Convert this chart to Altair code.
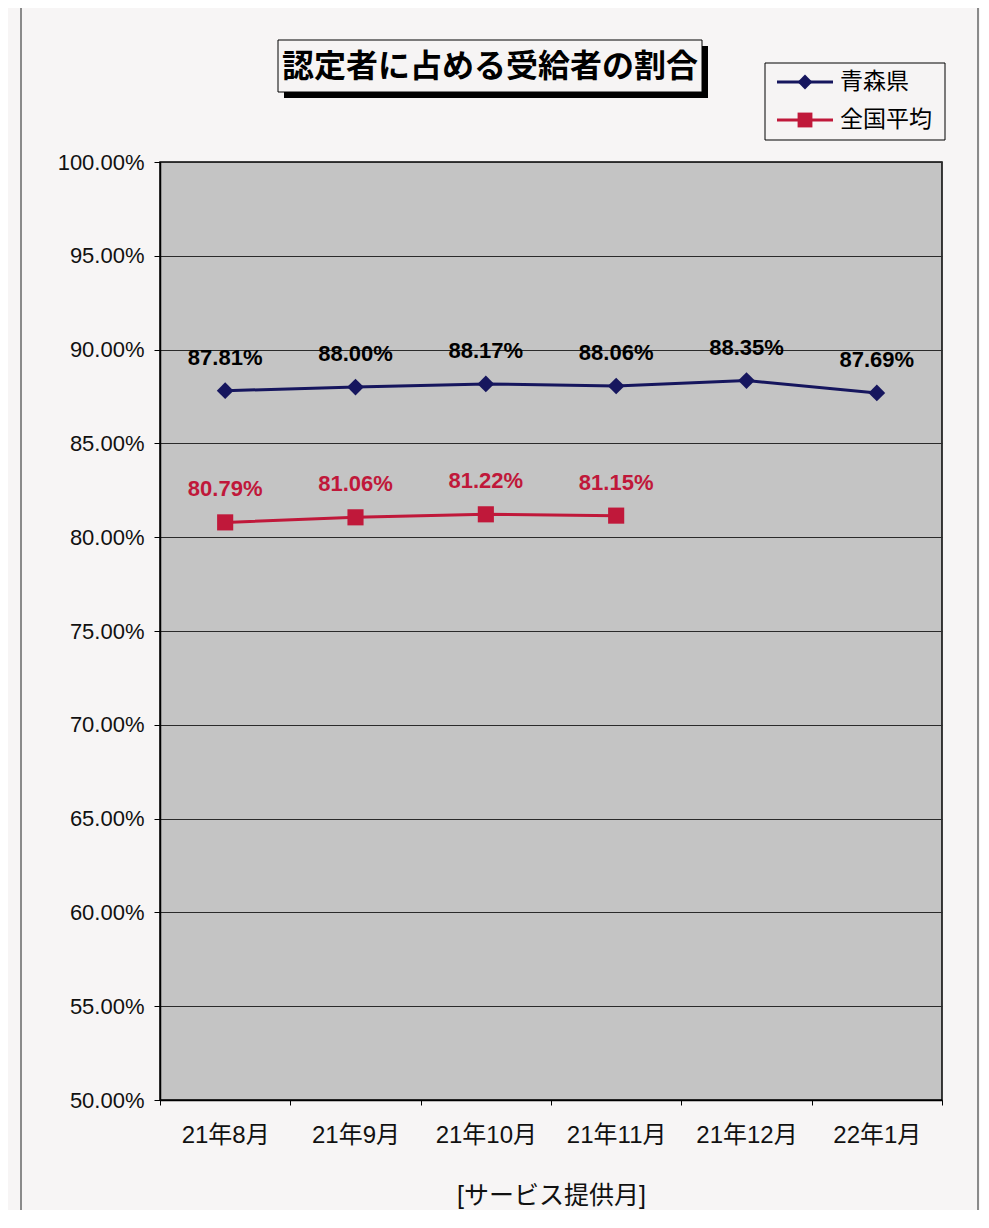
import altair as alt
import pandas as pd

months = ["21年8月", "21年9月", "21年10月", "21年11月", "21年12月", "22年1月"]
series_names = ["青森県", "全国平均"]
aomori = [87.81, 88.00, 88.17, 88.06, 88.35, 87.69]
national = [80.79, 81.06, 81.22, 81.15, None, None]
y_ticks = [0.50, 0.55, 0.60, 0.65, 0.70, 0.75, 0.80, 0.85, 0.90, 0.95, 1.00]

line_colors = ["#16165e", "#c0183a"]
label_colors = ["#000000", "#c0183a"]
FONT = "Liberation Sans, Noto Sans CJK JP, sans-serif"

rows = []
for m, a, n in zip(months, aomori, national):
    rows.append({"month": m, "series": series_names[0], "value": a / 100})
    if n is not None:
        rows.append({"month": m, "series": series_names[1], "value": n / 100})
df = pd.DataFrame(rows)

x_enc = alt.X("month:N", sort=months,
              scale=alt.Scale(domain=months, paddingInner=0, paddingOuter=0),
              axis=alt.Axis(title="[サービス提供月]", labelAngle=0, labelFontSize=24,
                            labelFont=FONT, labelColor="#111", labelPadding=18,
                            titleFont=FONT, titleFontSize=25, titleFontWeight="normal",
                            titleColor="#111", titlePadding=36, tickBand="extent",
                            tickSize=5, tickColor="#000", domainColor="#000",
                            domainWidth=1.5, grid=False))
y_enc = alt.Y("value:Q",
              scale=alt.Scale(domain=[0.5, 1.0], nice=False, zero=False),
              axis=alt.Axis(title=None, format=".2%", values=y_ticks, labelFontSize=22,
                            labelFont=FONT, labelColor="#111", labelPadding=10,
                            tickSize=6, tickColor="#000", domainColor="#000",
                            domainWidth=1.5, grid=True, gridColor="#2a2a2a",
                            gridWidth=1))
color_scale = alt.Scale(domain=series_names, range=line_colors)

base = alt.Chart(df)
lines = base.mark_line(strokeWidth=3).encode(
    x=x_enc, y=y_enc,
    color=alt.Color("series:N", scale=color_scale, legend=None),
    detail="series:N")
points = base.mark_point(filled=True, opacity=1).encode(
    x=x_enc, y=y_enc,
    color=alt.Color("series:N", scale=color_scale, legend=None),
    shape=alt.Shape("series:N", scale=alt.Scale(domain=series_names, range=["diamond", "square"]),
                    legend=None),
    size=alt.Size("series:N", scale=alt.Scale(domain=series_names, range=[280, 260]),
                  legend=None))

labels = []
for name, col in zip(series_names, label_colors):
    labels.append(
        base.transform_filter(alt.datum.series == name)
        .mark_text(dy=-33, fontSize=22, fontWeight="bold", font=FONT, color=col)
        .encode(x=x_enc, y=y_enc, text=alt.Text("value:Q", format=".2%")))

# decorations: outer frame, title box, legend box
frame = alt.Chart(alt.Data(values=[{"k": 1}])).mark_rect(
    fill="transparent", stroke="#8a8a8a", strokeWidth=2).encode(
    x=alt.value(-139), x2=alt.value(818), y=alt.value(-157), y2=alt.value(1052))

title_shadow = alt.Chart(alt.Data(values=[{"k": 1}])).mark_rect(fill="#000").encode(
    x=alt.value(124), x2=alt.value(548), y=alt.value(-116), y2=alt.value(-64))
title_box = alt.Chart(alt.Data(values=[{"k": 1}])).mark_rect(
    fill="#f6f4f4", stroke="#000", strokeWidth=1).encode(
    x=alt.value(118), x2=alt.value(542), y=alt.value(-122), y2=alt.value(-70))
title_text = alt.Chart(alt.Data(values=[{"t": "認定者に占める受給者の割合"}])).mark_text(
    fontSize=32, fontWeight="bold", font=FONT, color="#000", baseline="middle",
    align="center").encode(x=alt.value(330), y=alt.value(-95), text="t:N")

legend_box = alt.Chart(alt.Data(values=[{"k": 1}])).mark_rect(
    fill="#f6f4f4", stroke="#000", strokeWidth=1).encode(
    x=alt.value(605), x2=alt.value(785), y=alt.value(-99), y2=alt.value(-22))

legend_layers = []
for i, (name, col, shp) in enumerate(zip(series_names, line_colors, ["diamond", "square"])):
    yy = -80 + i * 38
    d = alt.Data(values=[{"s": name}])
    legend_layers.append(alt.Chart(d).mark_rule(color=col, strokeWidth=3).encode(
        x=alt.value(617), x2=alt.value(673), y=alt.value(yy)))
    legend_layers.append(alt.Chart(d).mark_point(filled=True, opacity=1, color=col,
                                                 shape=shp, size=220).encode(
        x=alt.value(645), y=alt.value(yy)))
    legend_layers.append(alt.Chart(d).mark_text(fontSize=23, font=FONT, color="#000",
                                                align="left", baseline="middle").encode(
        x=alt.value(680), y=alt.value(yy), text="s:N"))

chart = alt.layer(
    frame, lines, points, *labels, title_shadow, title_box, title_text, legend_box,
    *legend_layers
).properties(
    width=782, height=938,
    autosize=alt.AutoSizeParams(type="none"),
    padding={"left": 152, "top": 154, "right": 38, "bottom": 110},
    background="#f7f5f5",
).configure_view(
    fill="#c4c4c4", stroke="#000", strokeWidth=1.5
)

chart.save("out.html", embed_options={"renderer": "svg", "actions": False})
